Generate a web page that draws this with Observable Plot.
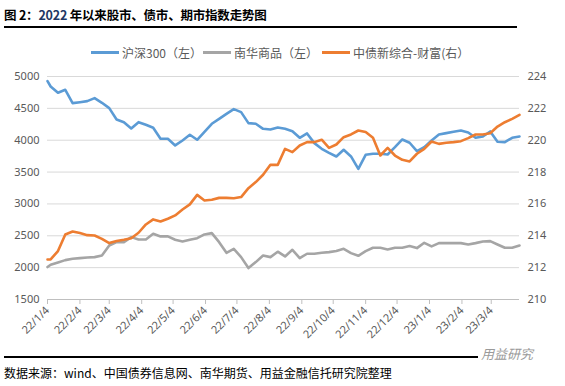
<!DOCTYPE html>
<html><head><meta charset="utf-8">
<script src="https://cdn.jsdelivr.net/npm/d3@7"></script>
<script src="https://cdn.jsdelivr.net/npm/@observablehq/plot@0.6"></script>
<style>
body{margin:0;background:#fff;}
#wrap{position:relative;width:565px;height:386px;overflow:hidden;font-family:"Noto Sans CJK SC","Noto Sans",sans-serif;background:#fff;}
#title{position:absolute;left:4px;top:5px;font-size:12.5px;font-weight:700;color:#000;white-space:nowrap;letter-spacing:-0.2px;}
#title .yr{color:#1f3864;}
#rule{position:absolute;left:4px;top:26px;width:513px;height:2px;background:#000;}
#legend{position:absolute;top:44px;left:0;width:565px;height:16px;}
.lg{position:absolute;top:0;display:flex;align-items:center;font-size:12px;color:#595959;white-space:nowrap;}
.sw{display:inline-block;width:28px;height:3px;margin-right:3px;}
#chart{position:absolute;left:0;top:60px;}
#brule{position:absolute;left:4px;top:356px;width:520px;height:1.5px;background:#000;}
#wm{position:absolute;left:478px;top:344px;font-size:13px;color:#9a9a9a;background:#fff;padding:0 3px;font-style:italic;}
#caption{position:absolute;left:4px;top:364px;font-size:12px;color:#000;white-space:nowrap;}
</style></head><body>
<div id="wrap">
  <div id="title">图 2：<span class="yr">2022</span> 年以来股市、债市、期市指数走势图</div>
  <div id="rule"></div>
  <div id="legend"></div>
  <div id="chart"></div>
  <div id="brule"></div>
  <div id="wm">用益研究</div>
  <div id="caption">数据来源：wind、中国债券信息网、南华期货、用益金融信托研究院整理</div>
</div>
<script>
const dates = ["2022-01-04","2022-01-07","2022-01-14","2022-01-21","2022-01-28","2022-02-04","2022-02-11","2022-02-18","2022-02-25",
"2022-03-04","2022-03-11","2022-03-18","2022-03-25","2022-04-01","2022-04-08","2022-04-15","2022-04-22","2022-04-29",
"2022-05-06","2022-05-13","2022-05-20","2022-05-27","2022-06-03","2022-06-10","2022-06-17","2022-06-24","2022-07-01",
"2022-07-08","2022-07-15","2022-07-22","2022-07-29","2022-08-05","2022-08-12","2022-08-19","2022-08-26","2022-09-02",
"2022-09-09","2022-09-16","2022-09-23","2022-09-30","2022-10-07","2022-10-14","2022-10-21","2022-10-28","2022-11-04",
"2022-11-11","2022-11-18","2022-11-25","2022-12-02","2022-12-09","2022-12-16","2022-12-23","2022-12-30","2023-01-06",
"2023-01-13","2023-01-20","2023-01-27","2023-02-03","2023-02-10","2023-02-17","2023-02-24","2023-03-03","2023-03-10",
"2023-03-17","2023-03-24","2023-03-31"];

const csi300 = [4927,4843,4744,4791,4582,4597,4613,4660,4587,4503,4325,4283,4184,4283,4242,4195,4022,
4022,3918,3996,4085,4007,4132,4258,4336,4414,4488,4441,4268,4258,4179,4169,
4200,
4179,4142,4038,4106,3954,3865,3802,3745,3850,3745,3551,3771,3787,3787,3776,3891,
4012,3960,3829,3891,3996,4090,4111,4132,4153,4122,4038,4059,4137,3975,3970,4038,4059];

const nanhua = [2010,2045,2082,2118,2139,2150,2160,2165,2191,2348,2400,2400,2479,2442,2442,2531,2490,
2490,2437,2411,2437,2463,2521,2542,2400,2233,2296,2165,1993,2087,2191,2165,
2250,
2176,2280,2150,2218,2218,2233,2244,2260,2296,2228,2186,2260,2312,2312,2286,2312,
2312,2338,2307,2390,2333,2385,2385,2385,2385,2364,2385,2411,2416,2364,2312,2312,2348];

const chinabond = [212.51,212.52,213.04,214.08,214.27,214.17,214.04,214.02,213.81,213.54,213.67,213.75,213.85,214.19,214.71,215.03,214.9,
215.07,215.28,215.65,215.97,216.57,216.22,216.26,216.38,216.38,216.36,216.43,216.99,217.37,217.83,218.46,
218.45,
219.46,219.25,219.67,219.88,219.88,220.03,219.52,219.73,220.19,220.36,220.61,220.51,220.15,219.04,219.52,219.04,
218.77,218.67,219.15,219.46,219.92,219.77,219.84,219.88,219.94,220.13,220.36,220.36,220.44,220.86,221.13,221.34,221.59];

const seriesNames = ["沪深300（左）","南华商品（左）","中债新综合-财富(右）"];
const seriesColors = ["#5B9BD5","#A5A5A5","#ED7D31"];

const tickDates = ["2022-01-04","2022-02-04","2022-03-04","2022-04-04","2022-05-04","2022-06-04","2022-07-04","2022-08-04",
"2022-09-04","2022-10-04","2022-11-04","2022-12-04","2023-01-04","2023-02-04","2023-03-04"];
const tickLabels = ["22/1/4","22/2/4","22/3/4","22/4/4","22/5/4","22/6/4","22/7/4","22/8/4",
"22/9/4","22/10/4","22/11/4","22/12/4","23/1/4","23/2/4","23/3/4"];
const leftTicks = [1500,2000,2500,3000,3500,4000,4500,5000];
const rightTicks = [210,212,214,216,218,220,222,224];

const parse = d3.utcParse("%Y-%m-%d");
// map right-axis values onto the left scale: 210..224 -> 1500..5000
const toLeft = v => 1500 + (v - 210) * (3500 / 14);
const fromLeft = v => 210 + (v - 1500) * 14 / 3500;

const rows = [];
dates.forEach((d, i) => {
  rows.push({date: parse(d), s: 0, y: csi300[i]});
  rows.push({date: parse(d), s: 1, y: nanhua[i]});
  rows.push({date: parse(d), s: 2, y: toLeft(chinabond[i])});
});
const tDates = tickDates.map(parse);

// legend
const legendX = [91, 203, 322];
const lg = document.getElementById("legend");
seriesNames.forEach((n, i) => {
  const el = document.createElement("div");
  el.className = "lg";
  el.style.left = legendX[i] + "px";
  el.innerHTML = `<span class="sw" style="background:${seriesColors[i]}"></span><span>${n}</span>`;
  lg.appendChild(el);
});

const chart = Plot.plot({
  width: 565,
  height: 284,
  marginLeft: 47,
  marginRight: 46,
  marginTop: 16,
  marginBottom: 45,
  style: {fontFamily: "'Noto Sans','Noto Sans CJK SC',sans-serif", fontSize: "11px", color: "#595959", background: "transparent"},
  x: {type: "utc", domain: [parse(dates[0]), parse(dates[dates.length - 1])]},
  y: {domain: [1500, 5000]},
  marks: [
    Plot.ruleY(leftTicks.slice(1), {stroke: "#d9d9d9", strokeWidth: 1}),
    Plot.ruleY([1500], {stroke: "#bfbfbf", strokeWidth: 1}),
    Plot.axisX(tDates, {
      tickFormat: d => tickLabels[tDates.findIndex(t => +t === +d)],
      tickRotate: -45, tickSize: 5, tickPadding: 4, stroke: "#bfbfbf", fill: "#595959", label: null
    }),
    Plot.axisY(leftTicks, {anchor: "left", tickSize: 0, tickPadding: 8, fill: "#595959", label: null,
      tickFormat: d => String(d)}),
    Plot.axisY(rightTicks.map(toLeft), {anchor: "right", tickSize: 0, tickPadding: 8, fill: "#595959", label: null,
      tickFormat: d => String(Math.round(fromLeft(d)))}),
    Plot.line(rows.filter(r => r.s === 0), {x: "date", y: "y", stroke: seriesColors[0], strokeWidth: 2.6}),
    Plot.line(rows.filter(r => r.s === 1), {x: "date", y: "y", stroke: seriesColors[1], strokeWidth: 2.6}),
    Plot.line(rows.filter(r => r.s === 2), {x: "date", y: "y", stroke: seriesColors[2], strokeWidth: 2.6})
  ]
});
document.getElementById("chart").appendChild(chart);
</script>
</body></html>
